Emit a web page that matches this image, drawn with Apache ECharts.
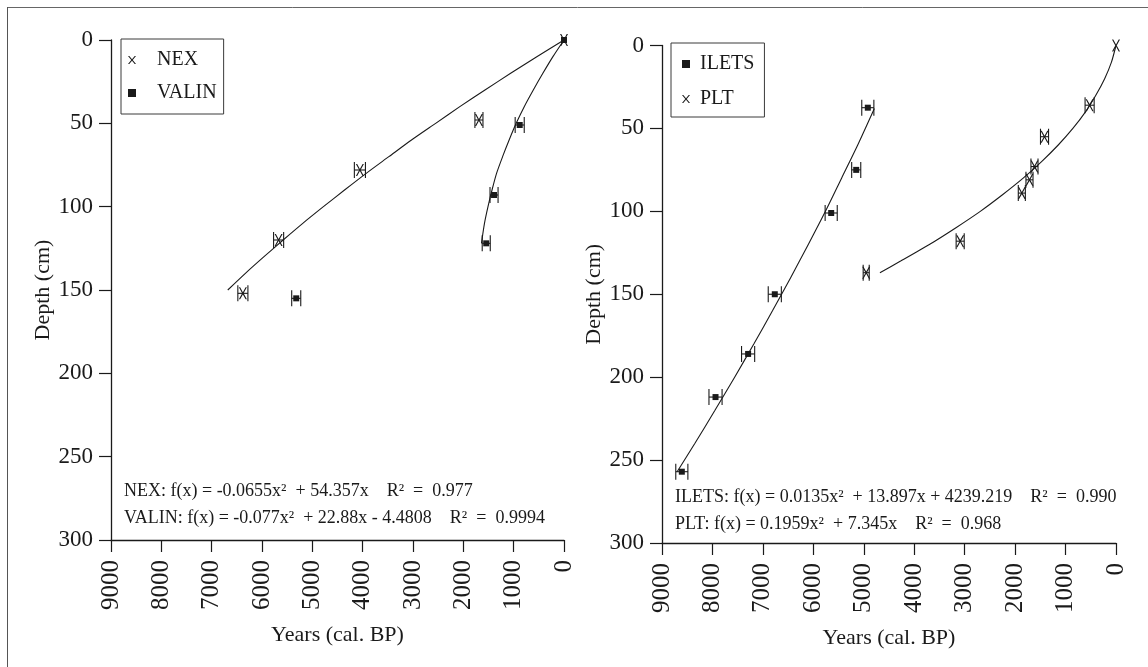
<!DOCTYPE html>
<html>
<head>
<meta charset="utf-8">
<title>Age–depth models</title>
<script src="https://cdn.jsdelivr.net/npm/echarts@6/dist/echarts.min.js"></script>
<style>
  html, body { margin: 0; padding: 0; background: #fff; }
  #chart { width: 1148px; height: 667px; }
</style>
</head>
<body>
<div id="chart"></div>
<script>
// ---- Dated samples: calibrated age (years BP), depth (cm), age error (years) ----
const nexYears  = [0, 1690, 4055, 5670, 6380];
const nexDepth  = [0, 48, 78, 120, 152];
const nexErr    = [0, 80, 110, 100, 100];

const valinYears = [0, 880, 1390, 1545, 5320];
const valinDepth = [0, 51, 93, 122, 155];
const valinErr   = [0, 90, 80, 80, 90];

const iletsYears = [4920, 5150, 5646, 6764, 7293, 7939, 8607];
const iletsDepth = [37.5, 75, 101, 150, 186, 212, 257];
const iletsErr   = [120, 90, 120, 130, 130, 130, 120];

const pltYears = [0, 523, 1417, 1616, 1715, 1867, 3089, 4952];
const pltDepth = [0, 36, 55, 73, 81, 89, 118, 137];
const pltErr   = [0, 90, 80, 70, 70, 70, 80, 60];

// ---- Fitted age–depth curves (depth cm -> age years BP) ----
const nexFitDepth = [0, 10, 20, 30, 40, 50, 60, 70, 80, 90, 100, 110, 120, 130, 140, 150];
const nexFitYears = [0, 540, 1060, 1570, 2070, 2550, 3030, 3480, 3930, 4360, 4780, 5190, 5580, 5960, 6330, 6680];

const valinFitDepth = [0, 10, 20, 30, 40, 50, 60, 70, 80, 90, 100, 110, 122];
const valinFitYears = [0, 220, 420, 610, 790, 950, 1090, 1220, 1340, 1430, 1510, 1580, 1640];

const iletsFitDepth = [38, 60, 80, 100, 120, 140, 160, 180, 200, 220, 240, 257];
const iletsFitYears = [4790, 5120, 5440, 5760, 6100, 6450, 6810, 7180, 7560, 7950, 8350, 8700];

const pltFitDepth = [0, 10, 20, 30, 40, 50, 60, 70, 80, 90, 100, 110, 120, 130, 137];
const pltFitYears = [0, 90, 225, 400, 605, 855, 1145, 1475, 1840, 2250, 2690, 3180, 3700, 4270, 4680];

// ---- Axis ranges and ticks ----
const yearMin = 0, yearMax = 9000, yearStep = 1000;
const depthMin = 0, depthMax = 300, depthStep = 50;

// ---- Regression equations printed in each panel ----
const eqLeft  = ['NEX: f(x) = -0.0655x²  + 54.357x    R²  =  0.977',
                 'VALIN: f(x) = -0.077x²  + 22.88x - 4.4808    R²  =  0.9994'];
const eqRight = ['ILETS: f(x) = 0.0135x²  + 13.897x + 4239.219    R²  =  0.990',
                 'PLT: f(x) = 0.1959x²  + 7.345x    R²  =  0.968'];

const FONT = '"Liberation Serif", "DejaVu Serif", serif';
const INK = '#1a1a1a';
const X_PATH = 'path://M0,0 L1.6,0 L5,4.1 L8.4,0 L10,0 L5.9,5 L10,10 L8.4,10 L5,5.9 L1.6,10 L0,10 L4.1,5 Z';
const SQ_PATH = 'path://M0,0 L10,0 L10,10 L0,10 Z';

const zip = (xs, ys) => xs.map((v, i) => [v, ys[i]]);
const zip3 = (xs, ys, es) => xs.map((v, i) => [v, ys[i], es[i]]);

function xAxisFor(gi) {
  return {
    gridIndex: gi, type: 'value', inverse: true,
    min: yearMin, max: yearMax, interval: yearStep,
    position: 'bottom',
    name: 'Years (cal. BP)', nameLocation: 'middle', nameGap: 84,
    nameTextStyle: { fontFamily: FONT, fontSize: 22, color: INK },
    axisLine: { onZero: false, lineStyle: { color: INK, width: 1.3 } },
    axisTick: { inside: false, length: 12, lineStyle: { color: INK, width: 1.2 } },
    axisLabel: {
      rotate: 90, margin: 20, fontFamily: FONT, fontSize: 25, color: INK,
      formatter: v => String(v)
    },
    splitLine: { show: false }
  };
}
function yAxisFor(gi, gap) {
  return {
    gridIndex: gi, type: 'value', inverse: true,
    min: depthMin, max: depthMax, interval: depthStep,
    position: 'left',
    name: 'Depth (cm)', nameLocation: 'middle', nameGap: gap,
    nameTextStyle: { fontFamily: FONT, fontSize: 22, color: INK },
    axisLine: { onZero: false, lineStyle: { color: INK, width: 1.3 } },
    axisTick: { inside: false, length: 12, lineStyle: { color: INK, width: 1.2 } },
    axisLabel: { margin: 18, fontFamily: FONT, fontSize: 23, color: INK, formatter: v => String(v) },
    splitLine: { show: false }
  };
}

// horizontal age-error bar with end caps
function errorBar(params, api) {
  const yr = api.value(0), d = api.value(1), e = api.value(2);
  if (!e) return { type: 'group', children: [] };
  const a = api.coord([yr - e, d]);
  const b = api.coord([yr + e, d]);
  const h = 8;
  const style = { stroke: INK, lineWidth: 1.1, fill: null };
  return {
    type: 'group',
    children: [
      { type: 'line', shape: { x1: a[0], y1: a[1], x2: b[0], y2: b[1] }, style },
      { type: 'line', shape: { x1: a[0], y1: a[1] - h, x2: a[0], y2: a[1] + h }, style },
      { type: 'line', shape: { x1: b[0], y1: b[1] - h, x2: b[0], y2: b[1] + h }, style }
    ]
  };
}

function bars(name, gi, ys, ds, es) {
  return {
    name: name + ' error', type: 'custom', xAxisIndex: gi, yAxisIndex: gi,
    data: zip3(ys, ds, es), encode: { x: 0, y: 1 },
    renderItem: errorBar, silent: true, z: 2
  };
}
function points(name, gi, ys, ds, symbol, size) {
  return {
    name, type: 'scatter', xAxisIndex: gi, yAxisIndex: gi,
    data: zip(ys, ds), symbol, symbolSize: size,
    itemStyle: { color: INK, opacity: 1 }, z: 4
  };
}
function fit(name, gi, ys, ds) {
  return {
    name: name + ' fit', type: 'line', xAxisIndex: gi, yAxisIndex: gi,
    data: zip(ys, ds), showSymbol: false, symbol: 'none', smooth: 0.25,
    lineStyle: { color: INK, width: 1.1 }, z: 3, silent: true
  };
}

function eqText(lines, x, y0, dy) {
  return lines.map((t, i) => ({
    type: 'text', left: x, top: y0 + i * dy, silent: true,
    style: { text: t, fontFamily: FONT, fontSize: 18, fill: INK }
  }));
}

const chart = echarts.init(document.getElementById('chart'), null, { renderer: 'canvas' });
chart.setOption({
  backgroundColor: '#ffffff',
  animation: false,
  grid: [
    { left: 111, top: 40, width: 453, height: 500 },
    { left: 662, top: 45.5, width: 454, height: 497.5 }
  ],
  xAxis: [xAxisFor(0), xAxisFor(1)],
  yAxis: [yAxisFor(0, 57), yAxisFor(1, 52)],
  legend: [
    {
      data: [{ name: 'NEX', icon: X_PATH }, { name: 'VALIN', icon: SQ_PATH }],
      orient: 'vertical', left: 121, top: 39,
      padding: [11, 7, 11, 7], itemGap: 13,
      itemWidth: 14, itemHeight: 8,
      borderColor: '#3a3a3a', borderWidth: 1,
      textStyle: { fontFamily: FONT, fontSize: 20, color: INK, padding: [0, 0, 0, 13] },
      selectedMode: false
    },
    {
      data: [{ name: 'ILETS', icon: SQ_PATH }, { name: 'PLT', icon: X_PATH }],
      orient: 'vertical', left: 671, top: 43,
      padding: [11, 10, 8, 11], itemGap: 15,
      itemWidth: 14, itemHeight: 8,
      borderColor: '#3a3a3a', borderWidth: 1,
      textStyle: { fontFamily: FONT, fontSize: 20, color: INK, padding: [0, 0, 0, 2] },
      selectedMode: false
    }
  ],
  series: [
    fit('NEX', 0, nexFitYears, nexFitDepth),
    fit('VALIN', 0, valinFitYears, valinFitDepth),
    bars('NEX', 0, nexYears, nexDepth, nexErr),
    bars('VALIN', 0, valinYears, valinDepth, valinErr),
    points('NEX', 0, nexYears, nexDepth, X_PATH, [8, 12]),
    points('VALIN', 0, valinYears, valinDepth, SQ_PATH, 6),

    fit('ILETS', 1, iletsFitYears, iletsFitDepth),
    fit('PLT', 1, pltFitYears, pltFitDepth),
    bars('ILETS', 1, iletsYears, iletsDepth, iletsErr),
    bars('PLT', 1, pltYears, pltDepth, pltErr),
    points('ILETS', 1, iletsYears, iletsDepth, SQ_PATH, 6),
    points('PLT', 1, pltYears, pltDepth, X_PATH, [8, 12])
  ],
  graphic: [
    // frame edges of the figure
    { type: 'line', silent: true, shape: { x1: 7, y1: 7.5, x2: 1148, y2: 7.5 }, style: { stroke: '#666', lineWidth: 1 } },
    { type: 'line', silent: true, shape: { x1: 7.5, y1: 7, x2: 7.5, y2: 667 }, style: { stroke: '#555', lineWidth: 1 } },
    ...eqText(eqLeft, 124, 482, 27),
    ...eqText(eqRight, 675, 488, 27)
  ]
});
</script>
</body>
</html>
